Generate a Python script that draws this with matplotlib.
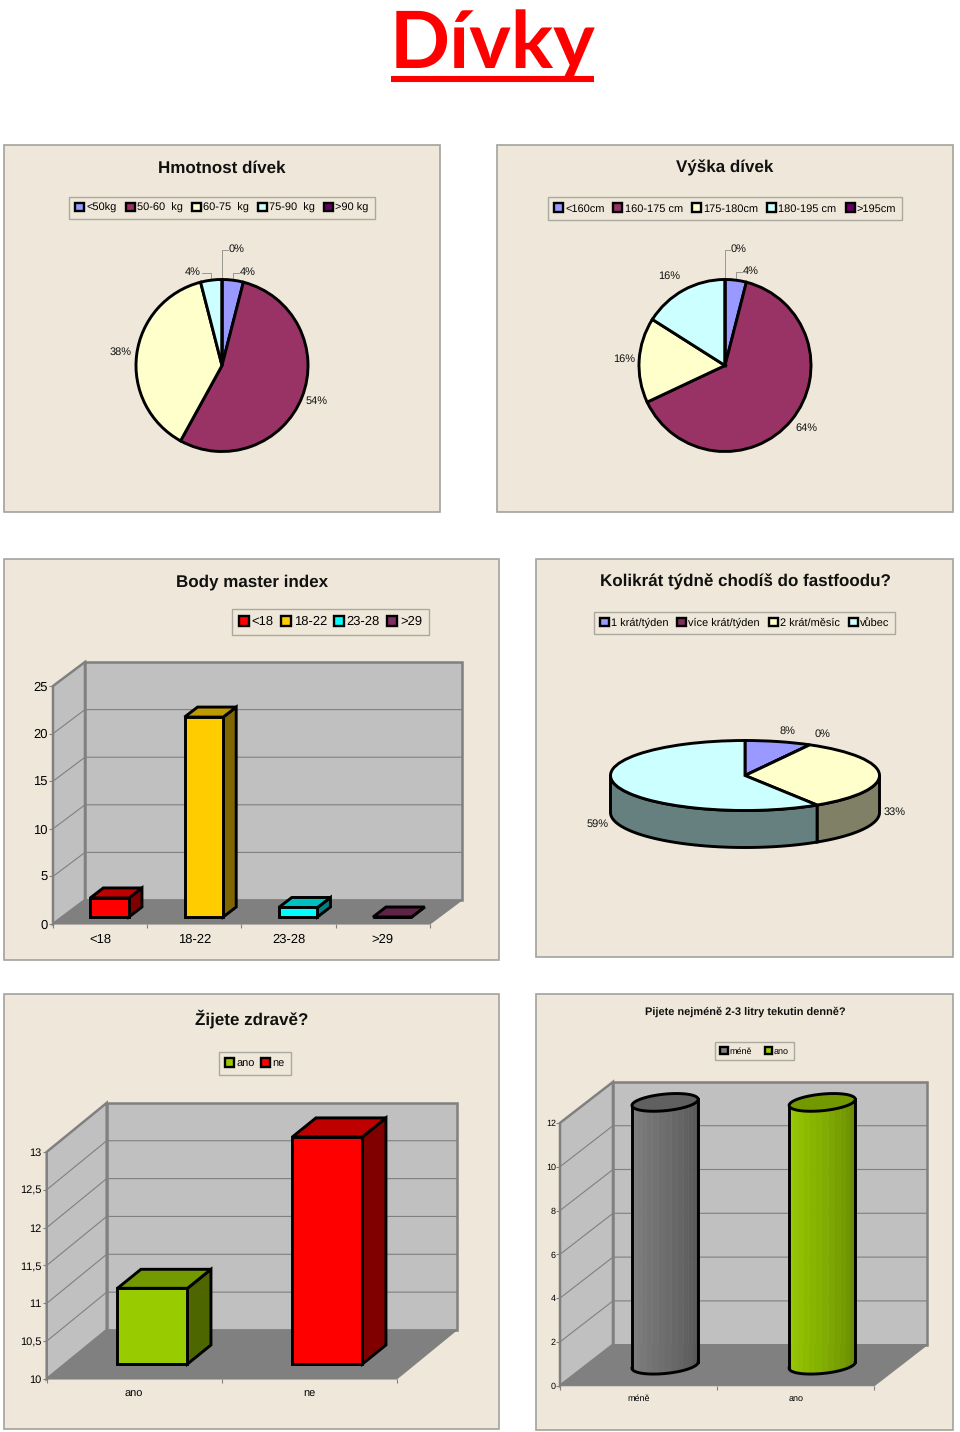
import numpy as np
import matplotlib
matplotlib.use('Agg')
import matplotlib.pyplot as plt
from matplotlib.patches import Polygon, Patch, Rectangle

plt.rcParams['font.family'] = ['Liberation Sans', 'DejaVu Sans']
plt.rcParams['text.hinting'] = 'none'
plt.rcParams['text.hinting_factor'] = 1

# --- data ---
weight_labels = ['<50kg', '50-60  kg', '60-75  kg', '75-90  kg', '>90 kg']
weight_pct = [4, 54, 38, 4, 0]

height_labels = ['<160cm', '160-175 cm', '175-180cm', '180-195 cm', '>195cm']
height_pct = [4, 64, 16, 16, 0]

food_labels = ['1 krát/týden', 'více krát/týden', '2 krát/měsíc', 'vůbec']
food_pct = [8, 0, 33, 59]

bmi_labels = ['<18', '18-22', '23-28', '>29']
bmi_values = [2, 21, 1, 0]
bmi_ticks = [0, 5, 10, 15, 20, 25]

healthy_labels = ['ano', 'ne']
healthy_values = [11, 13]
healthy_ticks = [10, 10.5, 11, 11.5, 12, 12.5, 13]
healthy_ticklabels = ['10', '10,5', '11', '11,5', '12', '12,5', '13']

drink_labels = ['méně', 'ano']
drink_values = [12, 12]
drink_ticks = [0, 2, 4, 6, 8, 10, 12]

W, H = 960, 1432
PANEL = '#efe8da'
PANEL_EDGE = '#a3a39c'
GRID = '#808080'
WALL = '#c0c0c0'
OUTLINE = 2.1

pie_colors = ['#9999ff', '#993366', '#ffffcc', '#ccffff', '#660066']
food_colors = ['#9999ff', '#7f2f5f', '#ffffcc', '#ccffff']
bmi_colors = ['#ff0000', '#ffcc00', '#00ffff', '#7f2f5f']
healthy_colors = ['#99cc00', '#ff0000']
drink_colors = ['#808080', '#99cc00']

fig = plt.figure(figsize=(W / 100, H / 100), dpi=100)
fig.patch.set_facecolor('white')

# background axes in pixels: panels, titles, pie labels
bg = fig.add_axes([0, 0, 1, 1], zorder=-1)
bg.set_xlim(0, W)
bg.set_ylim(H, 0)
bg.axis('off')


def shade(color, f):
    r, g, b = matplotlib.colors.to_rgb(color)
    return (r * f, g * f, b * f)


def panel(x0, y0, x1, y1, title, cx, cy, size=12.4):
    bg.add_patch(Rectangle((x0, y0), x1 - x0, y1 - y0, fc=PANEL, ec=PANEL_EDGE, lw=1.2))
    bg.text(cx, cy, title, fontsize=size, fontweight='bold', ha='center', va='center', color='#111111')


def legend(labels, colors, box, size, spacing=0.8):
    x0, y0, x1, y1 = box
    handles = [Patch(fc=c, ec='black', lw=1.7, label=l) for l, c in zip(labels, colors)]
    leg = fig.legend(handles=handles, ncol=len(labels), loc='center',
                     bbox_to_anchor=((x0 + x1) / 2 / W, 1 - (y0 + y1) / 2 / H),
                     fontsize=size, frameon=True, fancybox=False, framealpha=1,
                     facecolor=PANEL, edgecolor='#aaa99f',
                     handlelength=0.8, handleheight=0.8, handletextpad=0.2,
                     columnspacing=spacing, borderpad=0.55, borderaxespad=0)
    leg.get_frame().set_linewidth(1)


def flat_pie(values, colors, cx, cy, r):
    half = r * 1.25
    ax = fig.add_axes([(cx - half) / W, 1 - (cy + half) / H, 2 * half / W, 2 * half / H])
    ax.pie(values, colors=colors, startangle=90, counterclock=False, radius=1,
           wedgeprops={'edgecolor': 'black', 'linewidth': OUTLINE})
    ax.set_xlim(-1.25, 1.25)
    ax.set_ylim(-1.25, 1.25)
    return ax


def pie_labels(values, cx, cy, r, places, leaders):
    # places: text centre in pixels, leaders: True when a thin elbow line is drawn
    mids = np.cumsum(values) - np.array(values) / 2
    for i, v in enumerate(values):
        tx, ty = places[i]
        bg.text(tx, ty, f'{v}%', fontsize=8, ha='center', va='center', color='#111111')
        if leaders[i]:
            a = np.radians(mids[i] * 3.6)
            sx, sy = cx + r * np.sin(a), cy - r * np.cos(a)
            side = 1 if tx >= sx else -1
            bg.plot([sx, sx, tx - side * 9], [sy, ty + 1, ty + 1], color='#999990', lw=0.7)


def pie_3d(values, colors, cx, cy, rx, ry, depth):
    # tilted pie: an ordinary pie on an axes squashed to the ellipse, wall underneath
    top = cy - 1.1 * ry
    bottom = cy + ry + depth + 4
    left = cx - 1.1 * rx
    ax = fig.add_axes([left / W, 1 - bottom / H, 2.2 * rx / W, (bottom - top) / H])
    wall = depth / ry
    bounds = np.cumsum([0] + list(values)) * 3.6
    ax.set_xlim(-1.1, 1.1)
    for i in range(len(values)):
        lo, hi = np.radians(bounds[i]), np.radians(bounds[i + 1])
        lo, hi = max(lo, np.pi / 2), min(hi, 3 * np.pi / 2)
        if hi <= lo:
            continue
        t = np.linspace(lo, hi, 60)
        xs, ys = np.sin(t), np.cos(t)
        pts = np.r_[np.c_[xs, ys], np.c_[xs[::-1], ys[::-1] - wall]]
        ax.add_patch(Polygon(pts, closed=True, fc=shade(colors[i], 0.5), ec='black', lw=OUTLINE))
    ax.pie(values, colors=colors, startangle=90, counterclock=False, radius=1,
           wedgeprops={'edgecolor': 'black', 'linewidth': OUTLINE})
    ax.set_aspect('auto')
    ax.set_xlim(-1.1, 1.1)
    ax.set_ylim(-(ry + depth + 4) / ry, 1.1)
    return ax


def frame_3d(n, ticks, ticklabels, cats, fx, floor, fw, scale, dx, dy, fontsize, pad=1, xpad=7):
    # axes whose data units are categories and values; depth is a shift in those units
    vmin, vmax = ticks[0], ticks[-1]
    top = floor - (vmax - vmin) * scale - dy
    ax = fig.add_axes([fx / W, 1 - floor / H, (fw + dx) / W, (floor - top) / H])
    ax.patch.set_visible(False)
    for s in ax.spines.values():
        s.set_visible(False)
    catw = fw / n
    D, Dv = dx / catw, dy / scale
    ax.set_xlim(0, n + D)
    ax.set_ylim(vmin, vmax + Dv)

    ax.add_patch(Polygon([(0, vmin), (0, vmax), (D, vmax + Dv), (D, vmin + Dv)], closed=True,
                         fc=WALL, ec=GRID, lw=1.8, clip_on=False, zorder=1))
    ax.add_patch(Polygon([(D, vmin + Dv), (D, vmax + Dv), (n + D, vmax + Dv), (n + D, vmin + Dv)],
                         closed=True, fc=WALL, ec=GRID, lw=1.8, clip_on=False, zorder=1))
    ax.add_patch(Polygon([(0, vmin), (n, vmin), (n + D, vmin + Dv), (D, vmin + Dv)], closed=True,
                         fc=GRID, ec=GRID, lw=0.8, clip_on=False, zorder=1.1))
    for v in ticks[1:-1]:
        ax.plot([0, D, n + D], [v, v + Dv, v + Dv], color=GRID, lw=0.8, zorder=1.05)

    ax.set_yticks(ticks, labels=ticklabels)
    ax.set_xticks(np.arange(n + 1))
    ax.set_xticklabels([])
    ax.set_xticks(np.arange(n) + 0.5, labels=cats, minor=True)
    ax.tick_params(axis='both', which='major', length=3, width=0.8, color=GRID, labelsize=fontsize, pad=pad)
    ax.tick_params(axis='x', which='minor', length=0, labelsize=fontsize, pad=xpad)
    return ax, D, Dv


def box_bar(ax, i, value, vmin, width, bar_dx, bar_dy, D, Dv, color):
    x0 = i + (1 - width) / 2 + (D - bar_dx) / 2
    y0 = vmin + (Dv - bar_dy) / 2
    x1 = x0 + width
    y1 = y0 + value - vmin
    kw = dict(closed=True, ec='black', lw=OUTLINE, joinstyle='miter', zorder=3, clip_on=False)
    ax.add_patch(Polygon([(x1, y0), (x1 + bar_dx, y0 + bar_dy), (x1 + bar_dx, y1 + bar_dy), (x1, y1)],
                         fc=shade(color, 0.5), **kw))
    ax.add_patch(Polygon([(x0, y1), (x1, y1), (x1 + bar_dx, y1 + bar_dy), (x0 + bar_dx, y1 + bar_dy)],
                         fc=shade(color, 0.75), **kw))
    ax.add_patch(Polygon([(x0, y0), (x1, y0), (x1, y1), (x0, y1)], fc=color, **kw))


def cylinder(ax, i, value, vmin, a, b, D, Dv, color):
    cx = i + 0.5 + D / 2
    y0 = vmin + Dv / 2
    h = value - vmin

    def ring(t):
        return cx + a * np.cos(t) + b * D * np.sin(t), y0 + b * Dv * np.sin(t)

    t0 = np.arctan2(b * D, a)
    edges = np.linspace(t0 + np.pi, t0 + 2 * np.pi, 17)
    for k in range(16):
        t = np.linspace(edges[k], edges[k + 1], 5)
        xs, ys = ring(t)
        f = 1 - 0.36 * (k / 15) ** 1.3
        pts = np.r_[np.c_[xs, ys], np.c_[xs[::-1], ys[::-1] + h]]
        ax.add_patch(Polygon(pts, closed=True, fc=shade(color, f), ec=shade(color, f), lw=0.3, zorder=3))
    t = np.linspace(t0 + np.pi, t0 + 2 * np.pi, 80)
    xs, ys = ring(t)
    ax.plot(xs, ys, color='black', lw=OUTLINE, zorder=4)
    ax.plot([xs[0], xs[0]], [ys[0], ys[0] + h], color='black', lw=OUTLINE, zorder=4)
    ax.plot([xs[-1], xs[-1]], [ys[-1], ys[-1] + h], color='black', lw=OUTLINE, zorder=4)
    t = np.linspace(0, 2 * np.pi, 120)
    xs, ys = ring(t)
    ax.add_patch(Polygon(np.c_[xs, ys + h], closed=True, fc=shade(color, 0.75), ec='black', lw=OUTLINE, zorder=5))


# --- page title ---
bg.text(492.5, 68, 'Dívky', fontsize=57, fontweight='bold', family='Lato', color='#ff0000', ha='center', va='baseline')
bg.plot([391, 594], [79, 79], color='#ff0000', lw=4.4, solid_capstyle='butt')

# --- weight pie ---
panel(4, 145, 440, 512, 'Hmotnost dívek', 222, 168)
legend(weight_labels, pie_colors, (70, 197, 374, 219), 8.1)
flat_pie(weight_pct, pie_colors, 222, 365.5, 86)
pie_labels(weight_pct, 222, 365.5, 86,
           [(248, 272), (317, 401), (121, 352), (193, 272), (237, 249)],
           [True, False, False, True, True])

# --- height pie ---
panel(497, 145, 953, 512, 'Výška dívek', 725, 168)
legend(height_labels, pie_colors, (548, 197, 902, 220), 8.1)
flat_pie(height_pct, pie_colors, 725, 365.5, 86)
pie_labels(height_pct, 725, 365.5, 86,
           [(751, 271), (806, 428), (624, 359), (669, 276), (739, 249)],
           [True, False, False, False, True])

# --- BMI bars ---
panel(4, 559, 499, 960, 'Body master index', 252, 582)
legend(bmi_labels, bmi_colors, (235, 610, 426, 634), 9.2, spacing=0.55)
ax, D, Dv = frame_3d(len(bmi_values), bmi_ticks, [str(v) for v in bmi_ticks], bmi_labels,
                     53, 924, 377, 9.52, 32, 24, 9)
for i, v in enumerate(bmi_values):
    box_bar(ax, i, v, 0, 0.41, 13 / (377 / 4), 10 / 9.52, D, Dv, bmi_colors[i])

# --- fastfood 3D pie ---
panel(536, 559, 953, 957, 'Kolikrát týdně chodíš do fastfoodu?', 745, 582)
legend(food_labels, food_colors, (597, 612, 892, 634), 8)
pie_3d(food_pct, food_colors, 745, 775.5, 134.5, 35, 37)
pie_labels(food_pct, 745, 775, 135,
           [(787, 731), (823, 734), (895, 812), (598, 824)],
           [False, False, False, False])

# --- healthy bars ---
panel(4, 994, 499, 1429, 'Žijete zdravě?', 252, 1019)
legend(healthy_labels, healthy_colors, (219, 1052, 291, 1075), 8, spacing=0.6)
ax, D, Dv = frame_3d(len(healthy_values), healthy_ticks, healthy_ticklabels, healthy_labels,
                     46.7, 1379, 350, 75.7, 60, 49, 8)
for i, v in enumerate(healthy_values):
    box_bar(ax, i, v, 10, 0.4, 23.5 / 175, 19 / 75.7, D, Dv, healthy_colors[i])

# --- drink cylinders ---
panel(536, 994, 953, 1430, 'Pijete nejméně 2-3 litry tekutin denně?', 745, 1012, size=7.8)
legend(drink_labels, drink_colors, (716, 1041, 793, 1061), 6.6, spacing=1.4)
ax, D, Dv = frame_3d(len(drink_values), drink_ticks, [str(v) for v in drink_ticks], drink_labels,
                     560, 1385.7, 314.3, 21.9, 53, 41, 6.6, pad=0, xpad=6)
for i, v in enumerate(drink_values):
    cylinder(ax, i, v, 0, 31 / 157, 0.216, D, Dv, drink_colors[i])

fig.savefig('out.png', dpi=100)
